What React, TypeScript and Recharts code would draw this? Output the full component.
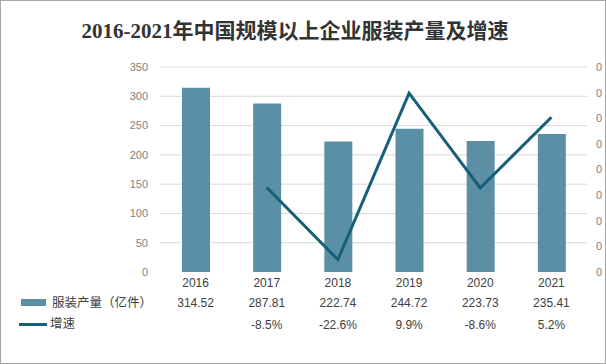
import React from "react";
import { ComposedChart, Bar, Line, XAxis, YAxis, CartesianGrid } from "recharts";

const years = ["2016", "2017", "2018", "2019", "2020", "2021"];
const production = [314.52, 287.81, 222.74, 244.72, 223.73, 235.41];
const growth: (number | null)[] = [null, -0.085, -0.226, 0.099, -0.086, 0.052];
const leftTicks = [0, 50, 100, 150, 200, 250, 300, 350];
const rightTicks = [-0.25, -0.2, -0.15, -0.1, -0.05, 0, 0.05, 0.1, 0.15];

const title = "2016-2021年中国规模以上企业服装产量及增速";
const barName = "服装产量（亿件）";
const lineName = "增速";

const BAR_COLOR = "#5b8fa5";
const LINE_COLOR = "#155f78";
const TEXT_FONT = "'Liberation Sans', 'Noto Sans CJK SC', sans-serif";

const data = years.map((y, i) => ({ year: y, production: production[i], growth: growth[i] }));

const fmtPct = (v: number | null) => (v === null ? "" : `${(v * 100).toFixed(1)}%`);

const TableTick = (props: any) => {
  const { x, y, payload, index } = props;
  const i = typeof index === "number" ? index : years.indexOf(payload.value);
  return (
    <g>
      <text x={x} y={y + 11} textAnchor="middle" dominantBaseline="central" fontSize={12} fill="#404040" fontFamily={TEXT_FONT}>
        {payload.value}
      </text>
      <text x={x} y={y + 31} textAnchor="middle" dominantBaseline="central" fontSize={12} fill="#404040" fontFamily={TEXT_FONT}>
        {production[i].toFixed(2)}
      </text>
      <text x={x} y={y + 53} textAnchor="middle" dominantBaseline="central" fontSize={12} fill="#404040" fontFamily={TEXT_FONT}>
        {fmtPct(growth[i])}
      </text>
    </g>
  );
};

export default function App() {
  const maxLeft = leftTicks[leftTicks.length - 1];
  return (
    <div style={{ position: "absolute", left: 0, top: 0, width: 606, height: 364, background: "#fff" }}>
      <ComposedChart
        width={606}
        height={364}
        data={data}
        margin={{ top: 67, right: 0, bottom: 12, left: 120 }}
      >
        <CartesianGrid
          yAxisId="left"
          vertical={false}
          stroke="#d9d9d9"
          horizontalCoordinatesGenerator={({ offset }: any) =>
            leftTicks.filter((v) => v > 0).map((v) => offset.top + offset.height * (1 - v / maxLeft))
          }
        />
        <XAxis
          dataKey="year"
          height={80}
          axisLine={false}
          tickLine={false}
          tickSize={0}
          tickMargin={0}
          interval={0}
          tick={<TableTick />}
        />
        <YAxis
          yAxisId="left"
          width={40}
          domain={[0, 350]}
          ticks={leftTicks}
          axisLine={false}
          tickLine={false}
          tickSize={0}
          tickMargin={12}
          tick={{ fontSize: 11, fill: "#7f7f7f", fontFamily: TEXT_FONT }}
        />
        <YAxis
          yAxisId="right"
          orientation="right"
          width={19}
          domain={[-0.25, 0.15]}
          ticks={rightTicks}
          tickFormatter={() => "0"}
          axisLine={false}
          tickLine={false}
          tickSize={0}
          tickMargin={9}
          tick={{ fontSize: 11, fill: "#7f7f7f", fontFamily: TEXT_FONT }}
        />
        <Bar yAxisId="left" dataKey="production" fill={BAR_COLOR} barSize={28} isAnimationActive={false} />
        <Line
          yAxisId="right"
          dataKey="growth"
          stroke={LINE_COLOR}
          strokeWidth={3}
          dot={false}
          activeDot={false}
          connectNulls={false}
          isAnimationActive={false}
        />
      </ComposedChart>

      <div
        style={{
          position: "absolute",
          left: 295,
          top: 19,
          transform: "translateX(-50%)",
          whiteSpace: "nowrap",
          fontFamily: "'Liberation Serif', 'DejaVu Serif', 'Noto Sans CJK SC', serif",
          fontSize: 21,
          lineHeight: "24px",
          fontWeight: "bold",
          color: "#333333",
        }}
      >
        {title}
      </div>

      <div style={{ position: "absolute", left: 21, top: 299, width: 25, height: 7, background: BAR_COLOR }} />
      <div
        style={{
          position: "absolute",
          left: 52,
          top: 295,
          lineHeight: "16px",
          fontSize: 12.5,
          fontFamily: TEXT_FONT,
          color: "#404040",
          whiteSpace: "nowrap",
        }}
      >
        {barName}
      </div>
      <div style={{ position: "absolute", left: 19, top: 323, width: 28, height: 3, background: LINE_COLOR }} />
      <div
        style={{
          position: "absolute",
          left: 50,
          top: 316,
          lineHeight: "16px",
          fontSize: 12.5,
          fontFamily: TEXT_FONT,
          color: "#404040",
          whiteSpace: "nowrap",
        }}
      >
        {lineName}
      </div>

      <div
        style={{
          position: "absolute",
          left: 0,
          top: 0,
          width: 606,
          height: 364,
          boxSizing: "border-box",
          border: "1px solid #a6a6a6",
          pointerEvents: "none",
        }}
      />
    </div>
  );
}
